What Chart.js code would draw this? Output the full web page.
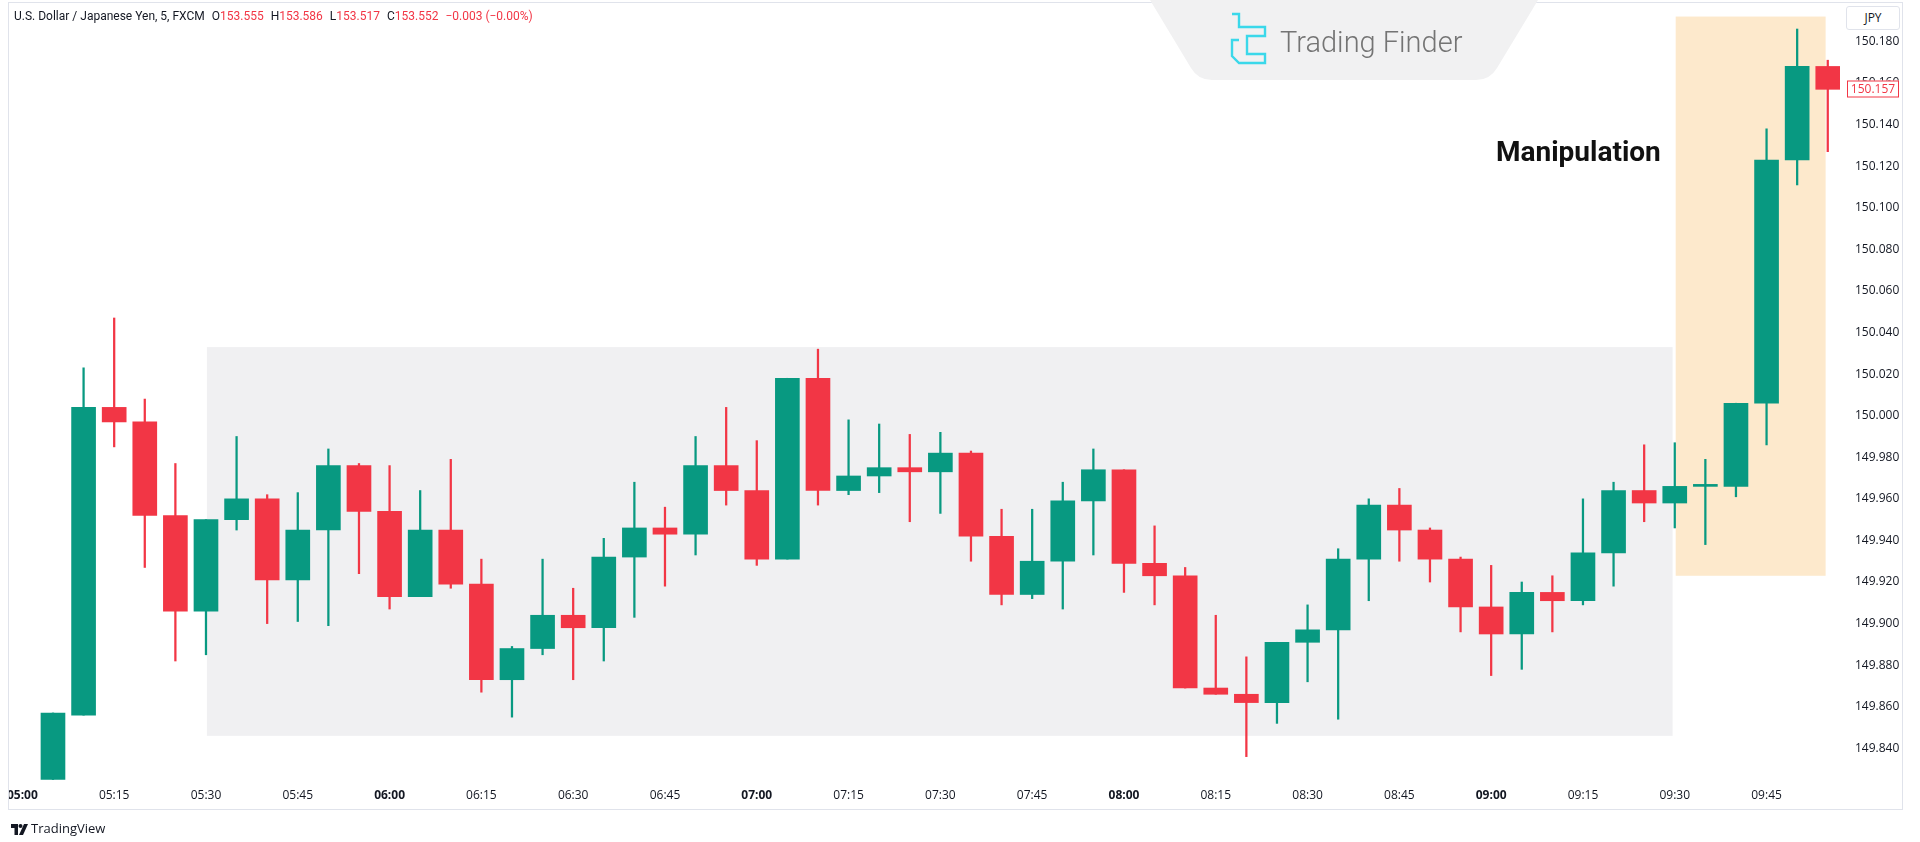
<!DOCTYPE html>
<html>
<head>
<meta charset="utf-8">
<title>USD/JPY 5m</title>
<script src="https://cdn.jsdelivr.net/npm/chart.js@4.4.1/dist/chart.umd.min.js"></script>
<style>
  html, body { margin: 0; padding: 0; background: #fff; }
  #page { position: relative; width: 1920px; height: 842px; overflow: hidden; }
  #chartBox { position: absolute; left: 0; top: 0; width: 1920px; height: 842px; }
  .leftMask { position: absolute; left: 0; top: 0; width: 8px; height: 842px; background: #fff; }
  .frame { position: absolute; left: 8px; top: 2px; width: 1895px; height: 808px; box-sizing: border-box; border: 1px solid #e0e3eb; }
  .header { position: absolute; left: 14px; top: 9px; font: 12px Roboto, sans-serif; color: #131722; white-space: nowrap; }
  .header .v { color: #f23645; }
  .header .g { margin-left: 7px; }
  .logo { position: absolute; left: 1150px; top: 0; }
  .logoText { position: absolute; left: 1280px; top: 24px; font: 300 29px Roboto, sans-serif; color: #747474; line-height: 36px; white-space: nowrap; }
  .jpy { position: absolute; left: 1846px; top: 6px; width: 54px; height: 24px; box-sizing: border-box; border: 1px solid #e0e3eb; border-radius: 3px; background: #fff;
         font: 12px "Open Sans", sans-serif; color: #131722; text-align: center; line-height: 22px; }
  .note { position: absolute; left: 1496px; top: 138px; font: bold 28px Roboto, sans-serif; color: #111; line-height: 1; white-space: nowrap; }
  .tv { position: absolute; left: 11px; top: 819px; font: 13px "Open Sans", sans-serif; color: #131722; white-space: nowrap; }
  .tv svg { vertical-align: -2px; margin-right: 3px; }
</style>
</head>
<body>
<div id="page">
  <div id="chartBox"><canvas id="candles"></canvas></div>
  <div class="leftMask"></div>
  <div class="frame"></div>

  <div class="header">U.S. Dollar / Japanese Yen, 5, FXCM<span class="g">O</span><span class="v">153.555</span><span class="g">H</span><span class="v">153.586</span><span class="g">L</span><span class="v">153.517</span><span class="g">C</span><span class="v">153.552</span><span class="g v">&minus;0.003 (&minus;0.00%)</span></div>

  <svg class="logo" width="390" height="82" viewBox="0 0 390 82">
    <path d="M0,0 L388,0 L347,68 Q340,80 326,80 L62,80 Q48,80 41,68 Z" fill="#f1f1f2"/>
    <path d="M82,14 H89 V27 H115 V36 H97 V54 H115 V63 H89 L82,56 V40 L89,40" fill="none" stroke="#3ad8ea" stroke-width="2.4" stroke-linejoin="miter"/>
  </svg>
  <div class="logoText">Trading Finder</div>

  <div class="jpy">JPY</div>
  <div class="note">Manipulation</div>
  <div class="tv"><svg width="17" height="11" viewBox="0 0 17 11"><path d="M0,0 H7 V11 H3.5 V4 H0 Z" fill="#131722"/><circle cx="9.5" cy="2" r="2" fill="#131722"/><path d="M13,0 H17 L12,11 H8 Z" fill="#131722"/></svg>TradingView</div>
</div>

<script>
// USD/JPY 5-minute candles, 05:05 .. 09:55
const opens  = [149.825,149.856,150.004,149.997,149.952,149.906,149.950,149.960,149.921,149.945,
                149.976,149.954,149.913,149.945,149.919,149.873,149.888,149.904,149.898,149.932,
                149.946,149.943,149.976,149.964,149.931,150.018,149.964,149.971,149.975,149.973,
                149.982,149.942,149.914,149.930,149.959,149.974,149.929,149.923,149.869,149.866,
                149.862,149.891,149.897,149.931,149.957,149.945,149.931,149.908,149.895,149.915,
                149.911,149.934,149.964,149.958,149.966,149.966,150.006,150.123,150.168];
const highs  = [149.857,150.023,150.047,150.008,149.977,149.950,149.990,149.962,149.963,149.984,
                149.977,149.976,149.964,149.979,149.931,149.889,149.931,149.917,149.941,149.968,
                149.956,149.990,150.004,149.988,150.018,150.032,149.998,149.996,149.991,149.992,
                149.983,149.955,149.955,149.968,149.984,149.974,149.947,149.927,149.904,149.884,
                149.891,149.909,149.936,149.960,149.965,149.946,149.932,149.928,149.920,149.923,
                149.960,149.968,149.986,149.987,149.979,150.006,150.138,150.186,150.171];
const lows   = [149.825,149.856,149.985,149.927,149.882,149.885,149.945,149.900,149.901,149.899,
                149.924,149.907,149.913,149.917,149.867,149.855,149.885,149.873,149.882,149.903,
                149.918,149.933,149.957,149.928,149.931,149.957,149.962,149.963,149.949,149.953,
                149.930,149.909,149.912,149.907,149.933,149.915,149.909,149.869,149.866,149.836,
                149.852,149.872,149.854,149.911,149.930,149.920,149.896,149.875,149.878,149.896,
                149.909,149.918,149.949,149.946,149.938,149.961,149.986,150.111,150.127];
const closes = [149.857,150.004,149.997,149.952,149.906,149.950,149.960,149.921,149.945,149.976,
                149.954,149.913,149.945,149.919,149.873,149.888,149.904,149.898,149.932,149.946,
                149.943,149.976,149.964,149.931,150.018,149.964,149.971,149.975,149.973,149.982,
                149.942,149.914,149.930,149.959,149.974,149.929,149.923,149.869,149.866,149.862,
                149.891,149.897,149.931,149.957,149.945,149.931,149.908,149.895,149.915,149.911,
                149.934,149.964,149.958,149.966,149.966,150.006,150.123,150.168,150.157];

// time axis labels, one every 3 bars (15 min) starting at 05:00
const timeLabels = ['05:00','05:15','05:30','05:45','06:00','06:15','06:30','06:45','07:00','07:15',
                    '07:30','07:45','08:00','08:15','08:30','08:45','09:00','09:15','09:30','09:45'];
const priceTicks = [149.84,149.86,149.88,149.90,149.92,149.94,149.96,149.98,150.00,
                    150.02,150.04,150.06,150.08,150.10,150.12,150.14,150.16,150.18];

// zones: [bar from, bar to, price low, price high]
const accumulationZone = [6.03, 53.93, 149.846, 150.033];
const manipulationZone = [54.03, 58.93, 149.923, 150.192];

const UP = '#089981', DOWN = '#f23645';
const barColors = closes.map((c, i) => c >= opens[i] ? UP : DOWN);

const bodies = closes.map((c, i) => ({ x: i + 1, y: [opens[i], c] }));
const wicks  = closes.map((c, i) => ({ x: i + 1, y: [lows[i], highs[i]] }));

const zonesPlugin = {
  id: 'zones',
  beforeDatasetsDraw(chart) {
    const { ctx, scales: { x, y }, chartArea } = chart;
    const draw = (z, color) => {
      const x0 = x.getPixelForValue(z[0]), x1 = x.getPixelForValue(z[1]);
      const y0 = y.getPixelForValue(z[3]), y1 = y.getPixelForValue(z[2]);
      ctx.fillStyle = color;
      ctx.fillRect(x0, y0, x1 - x0, y1 - y0);
    };
    ctx.save();
    ctx.beginPath();
    ctx.rect(chartArea.left, chartArea.top, chartArea.width, chartArea.height);
    ctx.clip();
    draw(accumulationZone, '#f0f0f2');
    draw(manipulationZone, '#fde9cc');
    ctx.restore();
  }
};

const lastPricePlugin = {
  id: 'lastPrice',
  afterDraw(chart) {
    const { ctx, scales: { y }, chartArea } = chart;
    const last = closes[closes.length - 1];
    const py = Math.round(y.getPixelForValue(last));
    const left = chartArea.right + 7, w = 52, h = 17;
    ctx.save();
    ctx.fillStyle = '#fff';
    ctx.fillRect(left, py - h / 2, w, h);
    ctx.strokeStyle = DOWN;
    ctx.lineWidth = 1;
    ctx.strokeRect(left + 0.5, py - h / 2 + 0.5, w - 1, h - 1);
    ctx.fillStyle = DOWN;
    ctx.font = '12px "Open Sans", sans-serif';
    ctx.textAlign = 'center';
    ctx.textBaseline = 'middle';
    ctx.fillText(last.toFixed(3), left + w / 2, py + 1);
    ctx.restore();
  }
};

new Chart(document.getElementById('candles'), {
  type: 'bar',
  data: {
    datasets: [
      { label: 'body', data: bodies, backgroundColor: barColors, barThickness: 24, minBarLength: 2, borderWidth: 0, borderSkipped: false, grouped: false },
      { label: 'wick', data: wicks, backgroundColor: barColors, barThickness: 1.6, borderWidth: 0, borderSkipped: false, grouped: false }
    ]
  },
  options: {
    responsive: true,
    maintainAspectRatio: false,
    animation: false,
    layout: { padding: { left: 8, right: 18, top: 2, bottom: 31 } },
    plugins: { legend: { display: false }, tooltip: { enabled: false } },
    scales: {
      x: {
        type: 'linear',
        offset: false,
        min: -0.47,
        max: 59.4,
        grid: { display: false, drawTicks: false },
        border: { display: false },
        afterBuildTicks: s => { s.ticks = timeLabels.map((t, i) => ({ value: i * 3 })); },
        afterFit: s => { s.height = 29; s.paddingLeft = 0; s.paddingRight = 0; },
        ticks: {
          padding: 6,
          maxRotation: 0,
          autoSkip: false,
          color: '#131722',
          font: c => ({ family: 'Open Sans', size: 12, weight: (timeLabels[c.index] || '').endsWith(':00') ? 'bold' : 'normal' }),
          callback: (v, i) => timeLabels[i]
        }
      },
      y: {
        position: 'right',
        min: 149.8238,
        max: 150.199,
        grid: { display: false, drawTicks: false },
        border: { display: false },
        afterBuildTicks: s => { s.ticks = priceTicks.map(v => ({ value: v })); },
        afterFit: s => { s.width = 62; s.paddingTop = 0; s.paddingBottom = 0; },
        ticks: {
          padding: 15,
          color: '#131722',
          font: { family: 'Open Sans', size: 12 },
          callback: v => Number(v).toFixed(3)
        }
      }
    }
  },
  plugins: [zonesPlugin, lastPricePlugin]
});
</script>
</body>
</html>
